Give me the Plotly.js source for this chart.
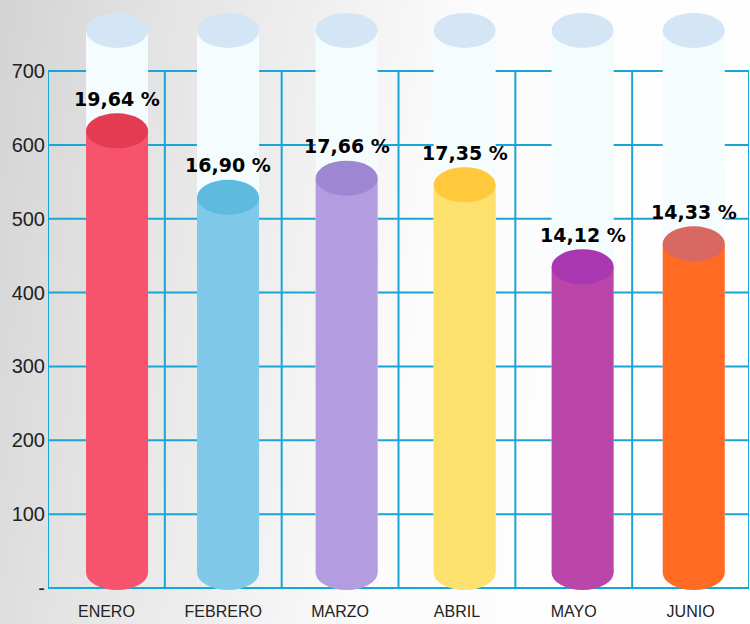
<!DOCTYPE html>
<html>
<head>
<meta charset="utf-8">
<script src="https://cdn.plot.ly/plotly-3.0.1.min.js"></script>
<style>
  html, body { margin: 0; padding: 0; }
  body { width: 750px; height: 624px; overflow: hidden;
         background: linear-gradient(100deg, #d3d3d3 0%, #e4e4e4 20%, #f1f1f1 40%, #fcfcfc 56%, #ffffff 100%); }
  #chart { width: 750px; height: 624px; }
</style>
</head>
<body>
<div id="chart"></div>
<script>
// ---- data ----
const months = ['ENERO', 'FEBRERO', 'MARZO', 'ABRIL', 'MAYO', 'JUNIO'];
const values = [619, 529, 555, 546, 435, 466];
const percents = [19.64, 16.90, 17.66, 17.35, 14.12, 14.33];
const yTickVals = [0, 100, 200, 300, 400, 500, 600, 700];
const yTickText = ['-', '100', '200', '300', '400', '500', '600', '700'];
const capacity = 755;

// ---- styles ----
const bodyColors = ['#f5546c', '#7fcae9', '#b39ce0', '#fce16f', '#bb46aa', '#ff6b22'];
const capColors  = ['#e23b52', '#5fbae0', '#9d87d3', '#ffc83d', '#a937b0', '#da6862'];
const shift = [0.091, 0.041, 0.056, 0.066, 0.076, 0.027];
const barW = 0.531;
const baseVal = 21;
const ry = 23.7;
const gridColor = '#17a6d7';

const offsets = shift.map(s => s - barW / 2);

const traces = [
  {
    type: 'bar', x: months, y: months.map(() => capacity - baseVal), base: baseVal,
    width: barW, offset: offsets,
    marker: { color: '#f5fcfd', line: { width: 0 } }, hoverinfo: 'skip', showlegend: false
  },
  {
    type: 'bar', x: months, y: values.map(v => v - baseVal), base: baseVal,
    width: barW, offset: offsets,
    marker: { color: bodyColors, line: { width: 0 } }, hoverinfo: 'skip', showlegend: false
  }
];

const shapes = [];
// grid
yTickVals.forEach(v => {
  shapes.push({ type: 'line', layer: 'below', xref: 'x', yref: 'y', x0: -0.5, x1: 5.5, y0: v, y1: v,
                line: { color: gridColor, width: 2 } });
});
for (let k = 0; k <= months.length; k++) {
  shapes.push({ type: 'line', layer: 'below', xref: 'x', yref: 'y', x0: k - 0.5, x1: k - 0.5, y0: 0, y1: 700,
                line: { color: gridColor, width: 2 } });
}
// cylinder caps
months.forEach((m, i) => {
  const cx = i + shift[i];
  const x0 = cx - barW / 2, x1 = cx + barW / 2;
  shapes.push({ type: 'circle', layer: 'above', xref: 'x', yref: 'y', x0, x1, y0: capacity - ry, y1: capacity + ry,
                fillcolor: '#d4e6f5', line: { width: 0 } });
  shapes.push({ type: 'circle', layer: 'above', xref: 'x', yref: 'y', x0, x1, y0: baseVal - ry, y1: baseVal + ry,
                fillcolor: bodyColors[i], line: { width: 0 } });
  shapes.push({ type: 'circle', layer: 'above', xref: 'x', yref: 'y', x0, x1, y0: values[i] - ry, y1: values[i] + ry,
                fillcolor: capColors[i], line: { width: 0 } });
});

const annotations = months.map((m, i) => ({
  xref: 'x', yref: 'y', x: i + shift[i], y: values[i], yshift: 32,
  text: percents[i].toFixed(2).replace('.', ',') + ' %', showarrow: false,
  font: { family: 'DejaVu Sans', size: 19, color: '#000', weight: 'bold' },
  xanchor: 'center', yanchor: 'middle'
}));

const layout = {
  width: 750, height: 624,
  margin: { l: 48, r: 1, t: 0, b: 24 },
  paper_bgcolor: 'rgba(0,0,0,0)', plot_bgcolor: 'rgba(0,0,0,0)',
  barmode: 'overlay',
  xaxis: { type: 'category', range: [-0.5, 5.5], showgrid: false, zeroline: false, showline: false,
           ticks: '', tickfont: { family: 'Liberation Sans, Arial, sans-serif', size: 16, color: '#222' },
           ticklabelstandoff: 0, fixedrange: true },
  yaxis: { range: [-16.25, 796.2], tickmode: 'array', tickvals: yTickVals, ticktext: yTickText,
           showgrid: false, zeroline: false, showline: false, ticks: '',
           tickfont: { family: 'Liberation Sans, Arial, sans-serif', size: 20, color: '#222' },
           ticklabelstandoff: 2, fixedrange: true },
  shapes, annotations, showlegend: false
};

Plotly.newPlot('chart', traces, layout, { displayModeBar: false, staticPlot: true });
</script>
</body>
</html>
